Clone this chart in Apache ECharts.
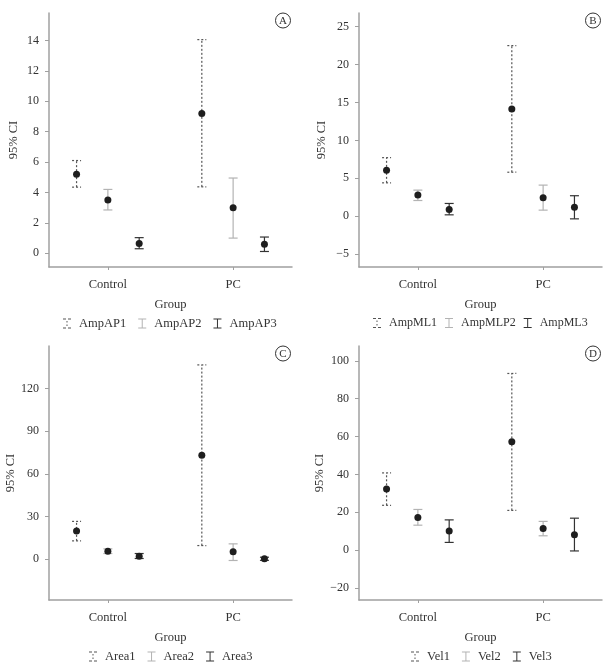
<!DOCTYPE html>
<html>
<head>
<meta charset="utf-8">
<script src="https://cdn.jsdelivr.net/npm/echarts@6/dist/echarts.min.js"></script>
<style>
  html, body { margin: 0; padding: 0; background: #fff; }
  #chart { width: 611px; height: 667px; }
</style>
</head>
<body>
<div id="chart"></div>
<script>
// 分组
var groups = ['Control', 'PC'];

// A: AmpAP
var apNames = ['AmpAP1', 'AmpAP2', 'AmpAP3'];
var apMean = [[5.2, 9.2], [3.5, 3.0], [0.65, 0.6]];
var apLow = [[4.35, 4.37], [2.85, 1.0], [0.3, 0.12]];
var apHigh = [[6.1, 14.05], [4.2, 4.95], [1.03, 1.07]];
var apTicks = [0, 2, 4, 6, 8, 10, 12, 14];

// B: AmpML
var mlNames = ['AmpML1', 'AmpMLP2', 'AmpML3'];
var mlMean = [[6.05, 14.15], [2.78, 2.43], [0.88, 1.19]];
var mlLow = [[4.4, 5.8], [2.07, 0.8], [0.18, -0.35]];
var mlHigh = [[7.72, 22.5], [3.44, 4.1], [1.68, 2.7]];
var mlTicks = [-5, 0, 5, 10, 15, 20, 25];

// C: Area
var areaNames = ['Area1', 'Area2', 'Area3'];
var areaMean = [[19.8, 73.2], [5.6, 5.2], [2.1, 0.3]];
var areaLow = [[12.9, 9.6], [4.0, -0.9], [0.5, -0.8]];
var areaHigh = [[26.6, 136.7], [7.3, 10.8], [4.0, 1.4]];
var areaTicks = [0, 30, 60, 90, 120];

// D: Vel
var velNames = ['Vel1', 'Vel2', 'Vel3'];
var velMean = [[32.3, 57.2], [17.3, 11.5], [10.1, 8.1]];
var velLow = [[23.7, 21.0], [13.2, 7.6], [4.1, -0.4]];
var velHigh = [[40.8, 93.3], [21.5, 15.2], [16.0, 16.9]];
var velTicks = [-20, 0, 20, 40, 60, 80, 100];

var FONT = '"Liberation Serif", "Times New Roman", serif';
var TXT = '#333';
var AXIS = '#a0a0a0';

var panels = [
	{letter: 'A', names: apNames, mean: apMean, low: apLow, high: apHigh, ticks: apTicks, min: -0.9, max: 15.8, left: 49, top: 13, nameGap: 29, legendLeft: 58, legendFont: 12.5, legendGap: 12},
	{letter: 'B', names: mlNames, mean: mlMean, low: mlLow, high: mlHigh, ticks: mlTicks, min: -6.7, max: 26.8, left: 359, top: 13, nameGap: 31, legendLeft: 368, legendFont: 12, legendGap: 8},
	{letter: 'C', names: areaNames, mean: areaMean, low: areaLow, high: areaHigh, ticks: areaTicks, min: -28.7, max: 150, left: 49, top: 346, nameGap: 29, legendLeft: 84, legendFont: 12.5, legendGap: 12},
	{letter: 'D', names: velNames, mean: velMean, low: velLow, high: velHigh, ticks: velTicks, min: -26.3, max: 107.8, left: 359, top: 346, nameGap: 31, legendLeft: 406, legendFont: 12.5, legendGap: 12}
];

// 三个系列的样式
var seriesColor = ['#555', '#b3b3b3', '#333'];
var seriesDash = [[2, 2], null, null];
var offsets = [-0.25, 0, 0.25];

var iconDashed = 'path://M0,0H3V1H0Z M5,0H8V1H5Z M3.5,2.5H4.5V4H3.5Z M3.5,6H4.5V7.5H3.5Z M0,9H3V10H0Z M5,9H8V10H5Z';
var iconSolid = 'path://M0,0H8V1H4.5V9H8V10H0V9H3.5V1H0Z';

function makeRender(color, dash) {
	return function (params, api) {
		var x = api.value(0);
		var pm = api.coord([x, api.value(1)]);
		var pl = api.coord([x, api.value(2)]);
		var ph = api.coord([x, api.value(3)]);
		var ls = {stroke: color, lineWidth: 1.2, lineDash: dash};
		return {
			type: 'group',
			children: [
				{type: 'line', shape: {x1: pl[0], y1: pl[1], x2: ph[0], y2: ph[1]}, style: ls},
				{type: 'line', shape: {x1: ph[0] - 4.5, y1: ph[1], x2: ph[0] + 4.5, y2: ph[1]}, style: ls},
				{type: 'line', shape: {x1: pl[0] - 4.5, y1: pl[1], x2: pl[0] + 4.5, y2: pl[1]}, style: ls},
				{type: 'circle', shape: {cx: pm[0], cy: pm[1], r: 3.5}, style: {fill: '#1e1e1e'}}
			]
		};
	};
}

var grid = [], xAxis = [], yAxis = [], series = [], legend = [], graphic = [];

panels.forEach(function (p, i) {
	grid.push({left: p.left, top: p.top, width: 243, height: 254, outerBoundsMode: 'none'});
	xAxis.push({
		type: 'value', gridIndex: i, min: 0.53, max: 2.47,
		name: 'Group', nameLocation: 'middle', nameGap: 31,
		nameTextStyle: {fontFamily: FONT, fontSize: 12.5, color: TXT},
		axisLine: {show: true, onZero: false, lineStyle: {color: AXIS, width: 1.5}},
		axisTick: {show: true, length: 3, customValues: [1, 2], lineStyle: {color: AXIS}},
		axisLabel: {customValues: [1, 2], margin: 11, fontFamily: FONT, fontSize: 12.5, color: TXT,
			formatter: function (v) { return groups[Math.round(v) - 1]; }},
		splitLine: {show: false}
	});
	yAxis.push({
		type: 'value', gridIndex: i, min: p.min, max: p.max,
		name: '95% CI', nameLocation: 'middle', nameGap: p.nameGap,
		nameTextStyle: {fontFamily: FONT, fontSize: 12.5, color: TXT},
		axisLine: {show: true, onZero: false, lineStyle: {color: AXIS, width: 1.5}},
		axisTick: {show: true, length: 4, customValues: p.ticks, lineStyle: {color: AXIS}},
		axisLabel: {customValues: p.ticks, margin: 10, fontFamily: FONT, fontSize: 12, color: TXT,
			formatter: function (v) { return v < 0 ? '\u2212' + Math.abs(v) : String(v); }},
		splitLine: {show: false}
	});
	var legendData = [];
	for (var s = 0; s < 3; s++) {
		var data = [];
		for (var g = 0; g < groups.length; g++) {
			data.push([g + 1 + offsets[s], p.mean[s][g], p.low[s][g], p.high[s][g]]);
		}
		series.push({
			type: 'custom', name: p.names[s], xAxisIndex: i, yAxisIndex: i,
			itemStyle: {color: seriesColor[s]},
			renderItem: makeRender(seriesColor[s], seriesDash[s]),
			encode: {x: 0, y: [1, 2, 3]},
			data: data
		});
		legendData.push({name: p.names[s], icon: s === 0 ? iconDashed : iconSolid});
	}
	legend.push({
		data: legendData, left: p.legendLeft, top: p.top + 299,
		itemWidth: 8, itemHeight: 10, itemGap: p.legendGap, selectedMode: false,
		textStyle: {fontFamily: FONT, fontSize: p.legendFont, color: TXT, padding: [0, 0, 0, 3]}
	});
	// 右上角圆圈字母
	var cx = p.left + 234, cy = p.top + 7.5;
	graphic.push({type: 'circle', shape: {cx: cx, cy: cy, r: 7.5}, style: {fill: 'none', stroke: TXT, lineWidth: 1}});
	graphic.push({type: 'text', x: cx, y: cy + 0.5, style: {text: p.letter, fill: TXT, font: '11px ' + FONT, align: 'center', verticalAlign: 'middle'}});
});

var myChart = echarts.init(document.getElementById('chart'));
myChart.setOption({
	backgroundColor: '#fff',
	animation: false,
	grid: grid,
	xAxis: xAxis,
	yAxis: yAxis,
	legend: legend,
	graphic: graphic,
	series: series
});
</script>
</body>
</html>
